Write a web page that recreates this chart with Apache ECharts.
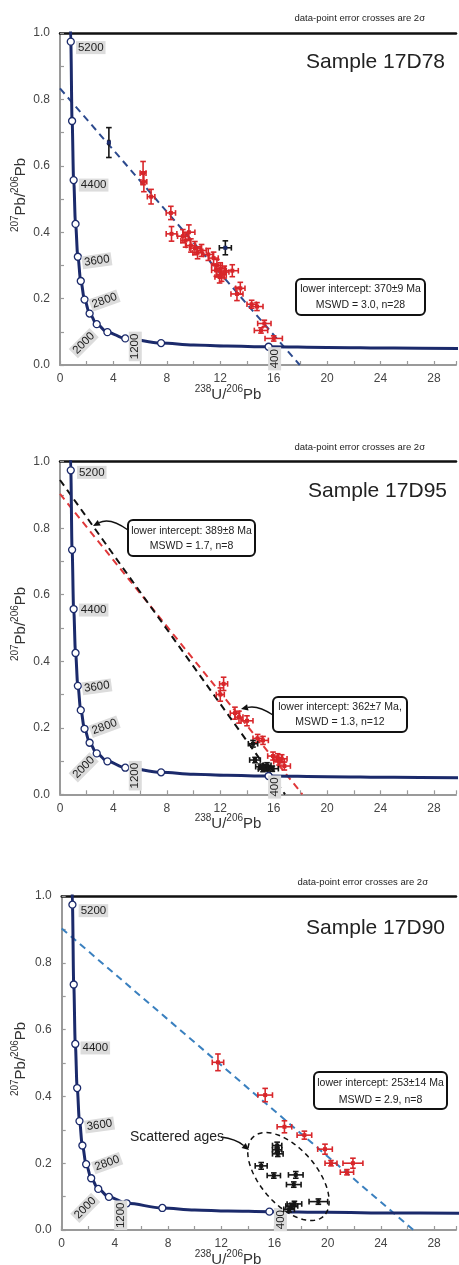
<!DOCTYPE html>
<html><head><meta charset="utf-8">
<script src="https://cdn.jsdelivr.net/npm/echarts/dist/echarts.min.js"></script>
<style>html,body{margin:0;padding:0;background:#fff}#c{width:459px;height:1265px}</style>
</head><body><div id="c"></div>
<script>
// ---------- DATA ----------
const concordiaAges = [5200, 4800, 4400, 4000, 3600, 3200, 2800, 2400, 2000, 1600, 1200, 800, 400];
const concordiaX = [0.806, 0.905, 1.022, 1.163, 1.337, 1.556, 1.838, 2.217, 2.749, 3.550, 4.888, 7.568, 15.62];
const concordiaY = [0.974, 0.735, 0.557, 0.425, 0.326, 0.253, 0.197, 0.155, 0.123, 0.099, 0.080, 0.066, 0.055];
const curveExtraX = [0.78, 10, 12.5, 20, 25, 30];
const curveExtraY = [1.03, 0.060, 0.057, 0.053, 0.051, 0.050];
const labeledAges = [5200, 4400, 3600, 2800, 2000, 1200, 400];

const xTickValues = [0, 4, 8, 12, 16, 20, 24, 28];
const yTickValues = [0.0, 0.2, 0.4, 0.6, 0.8, 1.0];

// Panel 1 : Sample 17D78   [x, y, xErr, yErr]
const p1Red = [
 [6.22,0.578,0.22,0.035],[6.28,0.552,0.22,0.030],[6.82,0.507,0.28,0.022],[8.30,0.458,0.35,0.020],
 [8.35,0.395,0.40,0.022],[9.20,0.388,0.40,0.020],[9.40,0.375,0.35,0.020],[9.65,0.400,0.45,0.022],
 [9.80,0.360,0.35,0.020],[10.10,0.352,0.40,0.020],[10.30,0.338,0.35,0.018],[10.60,0.345,0.35,0.018],
 [11.10,0.333,0.35,0.018],[11.50,0.322,0.35,0.018],[11.75,0.300,0.40,0.018],[11.70,0.285,0.35,0.018],
 [12.00,0.290,0.40,0.018],[12.10,0.272,0.35,0.020],[11.95,0.265,0.35,0.018],[12.30,0.280,0.35,0.018],
 [12.90,0.284,0.45,0.018],[13.50,0.231,0.35,0.018],[13.25,0.214,0.45,0.020],[14.35,0.183,0.35,0.012],
 [14.75,0.176,0.45,0.012],[15.30,0.125,0.50,0.010],[15.05,0.104,0.50,0.008],[16.00,0.080,0.65,0.008]
];
const p1Black = [[3.66,0.670,0.06,0.045],[12.38,0.353,0.45,0.021]];
const p1Discordia = [[0,0.833],[17.95,0]];

// Panel 2 : Sample 17D95
const p2Red = [
 [12.25,0.332,0.30,0.020],[12.00,0.300,0.30,0.020],[13.10,0.244,0.35,0.018],[13.40,0.232,0.30,0.018],
 [14.00,0.221,0.45,0.015],[14.80,0.168,0.35,0.012],[15.20,0.162,0.40,0.012],[15.95,0.115,0.40,0.012],
 [16.30,0.110,0.35,0.012],[16.60,0.107,0.40,0.012],[16.80,0.085,0.45,0.012],[16.40,0.098,0.40,0.010]
];
const p2Black = [
 [14.45,0.152,0.35,0.010],[14.60,0.103,0.40,0.008],[15.00,0.083,0.35,0.008],[15.30,0.080,0.40,0.008],
 [15.60,0.078,0.40,0.008],[15.90,0.077,0.45,0.008],[15.50,0.087,0.30,0.008],[15.20,0.076,0.35,0.008]
];
const p2DiscordiaBlack = [[0,0.945],[16.85,0]];
const p2DiscordiaRed = [[0,0.903],[18.15,0]];

// Panel 3 : Sample 17D90
const p3Red = [
 [11.75,0.502,0.43,0.025],[15.30,0.404,0.55,0.020],[16.75,0.309,0.55,0.018],[18.25,0.284,0.55,0.012],
 [19.80,0.242,0.55,0.015],[20.25,0.200,0.45,0.008],[21.90,0.200,0.75,0.015],[21.45,0.173,0.50,0.008]
];
const p3Black = [
 [16.20,0.253,0.35,0.010],[16.20,0.240,0.35,0.008],[16.25,0.228,0.40,0.008],[15.00,0.192,0.45,0.010],
 [15.95,0.163,0.50,0.008],[17.60,0.165,0.55,0.010],[17.45,0.136,0.55,0.008],[17.50,0.078,0.55,0.008],
 [17.30,0.072,0.45,0.008],[19.30,0.085,0.70,0.008],[17.10,0.062,0.40,0.008]
];
const p3Discordia = [[0,0.903],[26.45,0]];
const p3ScatterCentre = [[17.05,0.160]];

// ---------- STYLE / LAYOUT ----------
const FONT = '"Liberation Sans", Arial, Helvetica, sans-serif';
const NAVY = '#1b2a6b';
const RED = '#d8262a';
const BLK = '#151515';
const XMAX = 29.65;
// pixel offsets and rotation (deg) of concordia age labels for each panel
const labelLayout = [
 {5200:[20,6,0],4400:[20,5,0],3600:[19,4,8],2800:[20,1,20],2000:[-13,19,45],1200:[10,8,90],400:[6,12,90]},
 {5200:[21,2,0],4400:[20,1,0],3600:[19,1,8],2800:[20,-2,20],2000:[-13,14,45],1200:[10,8,90],400:[6,11,90]},
 {5200:[21,6,0],4400:[20,4,0],3600:[20,4,8],2800:[21,-1,20],2000:[-13,19,45],1200:[-6,12,90],400:[11,8,90]}
];
const grids = [
 {left:60, top:33, width:399, height:332},
 {left:60, top:461.7, width:399, height:332.6},
 {left:61.7, top:896, width:397.3, height:334}
];

const curve = concordiaX.map((x,i)=>[x, concordiaY[i]])
  .concat(curveExtraX.map((x,i)=>[x, curveExtraY[i]]))
  .sort((a,b)=>a[0]-b[0]);
const markers = concordiaX.map((x,i)=>[x, concordiaY[i], concordiaAges[i]]);
const labelPts = labeledAges.map(a=>{const i=concordiaAges.indexOf(a);return [concordiaX[i], concordiaY[i], a];});

function crossSeries(data, color, gi, centre){
  return {
    type:'custom', xAxisIndex:gi, yAxisIndex:gi, data:data, z:10,
    encode:{x:0,y:1},
    renderItem:function(params, api){
      const x=api.value(0), y=api.value(1), xe=api.value(2), ye=api.value(3);
      const c=api.coord([x,y]), l=api.coord([x-xe,y]), r=api.coord([x+xe,y]);
      const t=api.coord([x,y+ye]), b=api.coord([x,y-ye]);
      const cap=2.8, st={stroke:color,lineWidth:1.6};
      return {type:'group', children:[
        {type:'line',shape:{x1:l[0],y1:c[1],x2:r[0],y2:c[1]},style:st},
        {type:'line',shape:{x1:c[0],y1:t[1],x2:c[0],y2:b[1]},style:st},
        {type:'line',shape:{x1:l[0],y1:c[1]-cap,x2:l[0],y2:c[1]+cap},style:st},
        {type:'line',shape:{x1:r[0],y1:c[1]-cap,x2:r[0],y2:c[1]+cap},style:st},
        {type:'line',shape:{x1:c[0]-cap,y1:t[1],x2:c[0]+cap,y2:t[1]},style:st},
        {type:'line',shape:{x1:c[0]-cap,y1:b[1],x2:c[0]+cap,y2:b[1]},style:st},
        {type:'rect',shape:{x:c[0]-2,y:c[1]-2,width:4,height:4},style:{fill:centre||color}}
      ]};
    }
  };
}
function dashSeries(data, color, gi){
  return {type:'line', xAxisIndex:gi, yAxisIndex:gi, data:data, showSymbol:false, symbol:'none', z:4,
    lineStyle:{color:color, width:2, type:[7,5]}, silent:true};
}
function concordiaSeries(gi){
  const lay = labelLayout[gi];
  return [
    {type:'line', xAxisIndex:gi, yAxisIndex:gi, data:curve, showSymbol:false, symbol:'none',
      smooth:0.35, smoothMonotone:'x', z:5, lineStyle:{color:NAVY, width:3}, silent:true},
    {type:'scatter', xAxisIndex:gi, yAxisIndex:gi, data:markers, symbol:'circle', symbolSize:7, z:6,
      itemStyle:{color:'#fff', borderColor:NAVY, borderWidth:1.3, opacity:1}, silent:true},
    {type:'custom', xAxisIndex:gi, yAxisIndex:gi, data:labelPts, z:7, encode:{x:0,y:1},
      renderItem:function(params, api){
        const age=api.value(2); const c=api.coord([api.value(0), api.value(1)]);
        const L=lay[age];
        return {type:'text', x:c[0]+L[0], y:c[1]+L[1], rotation:L[2]*Math.PI/180,
          style:{text:String(age), font:'11.5px '+FONT, fill:'#222', backgroundColor:'#dcdcdc',
            padding:[1,2,0,2], align:'center', verticalAlign:'middle', textAlign:'center', textVerticalAlign:'middle'}};
      }}
  ];
}

const xAxes = [], yAxes = [];
grids.forEach((g,i)=>{
  xAxes.push({type:'value', gridIndex:i, min:0, max:XMAX, interval:2, position:'bottom',
    axisLine:{show:true, onZero:false, lineStyle:{color:'#9a9a9a', width:2}},
    axisTick:{show:true, inside:true, length:4, lineStyle:{color:'#9a9a9a', width:1.2}},
    axisLabel:{fontSize:12, fontFamily:FONT, color:'#444', margin:8,
      formatter:v=> xTickValues.some(t=>Math.abs(t-v)<1e-6) ? String(Math.round(v)) : ''},
    splitLine:{show:false}});
  yAxes.push({type:'value', gridIndex:i, min:0, max:1, interval:0.1,
    axisLine:{show:true, onZero:false, lineStyle:{color:'#9a9a9a', width:2}},
    axisTick:{show:true, inside:true, length:4, lineStyle:{color:'#9a9a9a', width:1.2}},
    axisLabel:{fontSize:12, fontFamily:FONT, color:'#444', margin:10,
      formatter:v=>{const m=yTickValues.find(t=>Math.abs(t-v)<1e-6);return m===undefined?'':m.toFixed(1);}},
    splitLine:{show:false}});
});
grids.forEach((g,i)=>{
  xAxes.push({type:'value', gridIndex:i, min:0, max:XMAX, position:'top',
    axisLine:{show:true, onZero:false, lineStyle:{color:'#111', width:2.5}},
    axisTick:{show:false}, axisLabel:{show:false}, splitLine:{show:false}});
});

const series = [];
[0,1,2].forEach(gi=>series.push(...concordiaSeries(gi)));
series.push(dashSeries(p1Discordia, '#2c4a8e', 0));
series.push(crossSeries(p1Red, RED, 0));
series.push(crossSeries(p1Black, BLK, 0, NAVY));
series.push(dashSeries(p2DiscordiaRed, '#e0383a', 1));
series.push(dashSeries(p2DiscordiaBlack, '#111', 1));
series.push(crossSeries(p2Red, RED, 1));
series.push(crossSeries(p2Black, BLK, 1));
series.push(dashSeries(p3Discordia, '#3a80bf', 2));
series.push(crossSeries(p3Red, RED, 2));
series.push(crossSeries(p3Black, BLK, 2));
series.push({type:'custom', xAxisIndex:2, yAxisIndex:2, data:p3ScatterCentre, z:8, encode:{x:0,y:1},
  renderItem:function(params, api){
    const c=api.coord([api.value(0), api.value(1)]);
    const a=53, b=28, th=49*Math.PI/180, pts=[];
    for(let k=0;k<96;k++){const t=k/96*2*Math.PI;
      pts.push([c[0]+a*Math.cos(t)*Math.cos(th)-b*Math.sin(t)*Math.sin(th),
                c[1]+a*Math.cos(t)*Math.sin(th)+b*Math.sin(t)*Math.cos(th)]);}
    return {type:'polygon', shape:{points:pts}, style:{fill:'none', stroke:'#111', lineWidth:1.5, lineDash:[5,4]}};
  }});

// ---------- annotations ----------
const rich = {
  n:{fontSize:15, fontFamily:FONT, fill:'#333', color:'#333', lineHeight:18, verticalAlign:'bottom'},
  sup:{fontSize:10, fontFamily:FONT, fill:'#333', color:'#333', lineHeight:10, verticalAlign:'top'}
};
function txt(x,y,text,size,align,extra){
  return Object.assign({type:'text', x:x, y:y, z:100, style:{text:text, font:size+'px '+FONT, fill:'#222',
    align:align, textAlign:align, verticalAlign:'middle', textVerticalAlign:'middle'}}, extra||{});
}
function box(x,y,w,h,l1,l2,y1,y2){
  const cx=x+w/2;
  return [
    {type:'rect', z:90, shape:{x:x,y:y,width:w,height:h,r:5}, style:{fill:'#fff', stroke:'#111', lineWidth:2}},
    txt(cx,y1,l1,10.5,'center'), txt(cx,y2,l2,10.5,'center')
  ];
}
function arrow(x1,y1,cx,cy,x2,y2){
  let dx=x2-cx, dy=y2-cy; const L=Math.hypot(dx,dy); dx/=L; dy/=L;
  const bx=x2-dx*7, by=y2-dy*7, nx=-dy, ny=dx;
  return [
    {type:'bezierCurve', z:95, shape:{x1:x1,y1:y1,cpx1:cx,cpy1:cy,x2:bx,y2:by}, style:{stroke:'#111', lineWidth:1.4, fill:'none'}},
    {type:'polygon', z:95, shape:{points:[[x2,y2],[bx+nx*3.2,by+ny*3.2],[bx-nx*3.2,by-ny*3.2]]}, style:{fill:'#111'}}
  ];
}
function axisNames(gridIdx){
  const g=grids[gridIdx];
  const ymid=g.top+g.height/2-4;
  return [
    {type:'text', z:100, x:19, y:ymid, rotation:Math.PI/2,
      style:{text:'{sup|207}{n|Pb/}{sup|206}{n|Pb}', rich:rich, align:'center', verticalAlign:'middle', textAlign:'center', textVerticalAlign:'middle'}},
    {type:'text', z:100, x:228, y:g.top+g.height+28,
      style:{text:'{sup|238}{n|U/}{sup|206}{n|Pb}', rich:rich, align:'center', verticalAlign:'middle', textAlign:'center', textVerticalAlign:'middle'}}
  ];
}

const graphics = [
  txt(425,18,'data-point error crosses are 2\u03c3',9.5,'right'),
  txt(445,62,'Sample 17D78',21,'right'),
  ...box(296,279,129,36,'lower intercept: 370\u00b19 Ma','MSWD = 3.0, n=28',289.5,305.5),
  ...axisNames(0),

  txt(425,447,'data-point error crosses are 2\u03c3',9.5,'right'),
  txt(447,491,'Sample 17D95',21,'right'),
  ...box(128,520,127,36,'lower intercept: 389\u00b18 Ma','MSWD = 1.7, n=8',531,546.5),
  ...arrow(128,530,110,517,93,526),
  ...box(273,697,134,35,'lower intercept: 362\u00b17 Ma,','MSWD = 1.3, n=12',707,722),
  ...arrow(273,715,258,705,241,709),
  ...axisNames(1),

  txt(428,882,'data-point error crosses are 2\u03c3',9.5,'right'),
  txt(445,928,'Sample 17D90',21,'right'),
  ...box(314,1072,133,37,'lower intercept: 253\u00b114 Ma','MSWD = 2.9, n=8',1083.5,1100),
  txt(177,1137,'Scattered ages',14,'center',{}),
  ...arrow(221,1137,236,1139,249,1150),
  ...axisNames(2)
];

const chart = echarts.init(document.getElementById('c'), null, {renderer:'canvas'});
chart.setOption({
  animation:false, backgroundColor:'#fff',
  grid: grids.map(g=>Object.assign({containLabel:false}, g)),
  xAxis: xAxes, yAxis: yAxes, series: series, graphic: {elements: graphics}
});
</script></body></html>
